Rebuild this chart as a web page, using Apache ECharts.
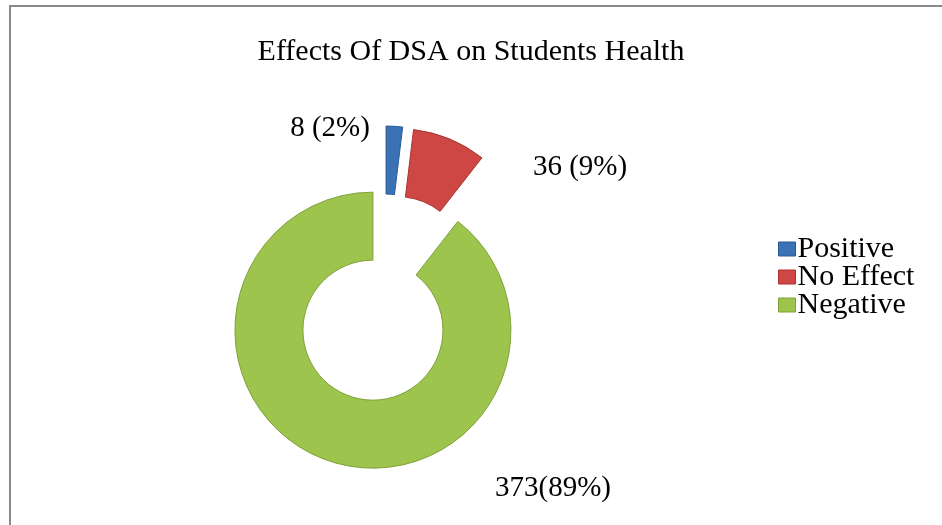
<!DOCTYPE html>
<html>
<head>
<meta charset="utf-8">
<script src="https://cdn.jsdelivr.net/npm/echarts@6/dist/echarts.min.js"></script>
<style>
html,body{margin:0;padding:0;background:#fff;}
#chart{width:942px;height:525px;}
</style>
</head>
<body>
<div id="chart"></div>
<script>
const titleText = 'Effects Of DSA on Students Health';
const categories = ['Positive', 'No Effect', 'Negative'];
const values = [8, 36, 373];
const labelTexts = ['8 (2%)', '36 (9%)', '373(89%)'];

// styling
const colors = ['#3b72b6', '#cf4745', '#9dc44d'];
const borderColors = ['#2a5a96', '#a83532', '#7fa23a'];
const pieCenter = [384, 298];
const radii = [70, 138];
const explode = 34;
const labelPos = [[330, 128], [580, 167], [553, 488]];
const serif = '"Liberation Serif", "Times New Roman", serif';

const total = values.reduce((a, b) => a + b, 0);
let acc = 0;
const mids = values.map(v => { const m = (acc + v / 2) / total * 2 * Math.PI; acc += v; return m; });

const series = categories.map((cat, i) => ({
  type: 'pie',
  silent: true,
  animation: false,
  startAngle: 90,
  clockwise: true,
  avoidLabelOverlap: false,
  radius: radii,
  center: [pieCenter[0] + explode * Math.sin(mids[i]), pieCenter[1] - explode * Math.cos(mids[i])],
  labelLine: { show: false },
  labelLayout: function (p) {
    return { x: labelPos[i][0], y: labelPos[i][1], align: 'center', verticalAlign: 'middle' };
  },
  data: categories.map((c, j) => ({
    name: c,
    value: values[j],
    itemStyle: j === i
      ? { color: colors[j], borderColor: borderColors[j], borderWidth: 1 }
      : { color: 'rgba(0,0,0,0)', borderWidth: 0 },
    label: j === i
      ? { show: true, formatter: labelTexts[j], fontFamily: serif, fontSize: 29, color: '#000' }
      : { show: false }
  }))
}));

const chart = echarts.init(document.getElementById('chart'));
chart.setOption({
  backgroundColor: '#fff',
  title: {
    text: titleText,
    left: 'center',
    top: 32,
    textStyle: { fontFamily: serif, fontSize: 30, fontWeight: 'normal', color: '#000' }
  },
  legend: {
    orient: 'vertical',
    left: 773,
    top: 229,
    icon: 'rect',
    itemWidth: 17,
    itemHeight: 14,
    itemGap: -2,
    selectedMode: false,
    textStyle: { fontFamily: serif, fontSize: 30, color: '#000', padding: [0, 0, 0, -3] },
    data: categories.map((c, i) => ({ name: c, itemStyle: { color: colors[i], borderColor: borderColors[i], borderWidth: 1 } }))
  },
  graphic: [{
    type: 'rect',
    shape: { x: 10, y: 6, width: 1200, height: 1200 },
    style: { fill: 'none', stroke: '#8a8a8a', lineWidth: 2 },
    silent: true
  }],
  series: series
});
</script>
</body>
</html>
